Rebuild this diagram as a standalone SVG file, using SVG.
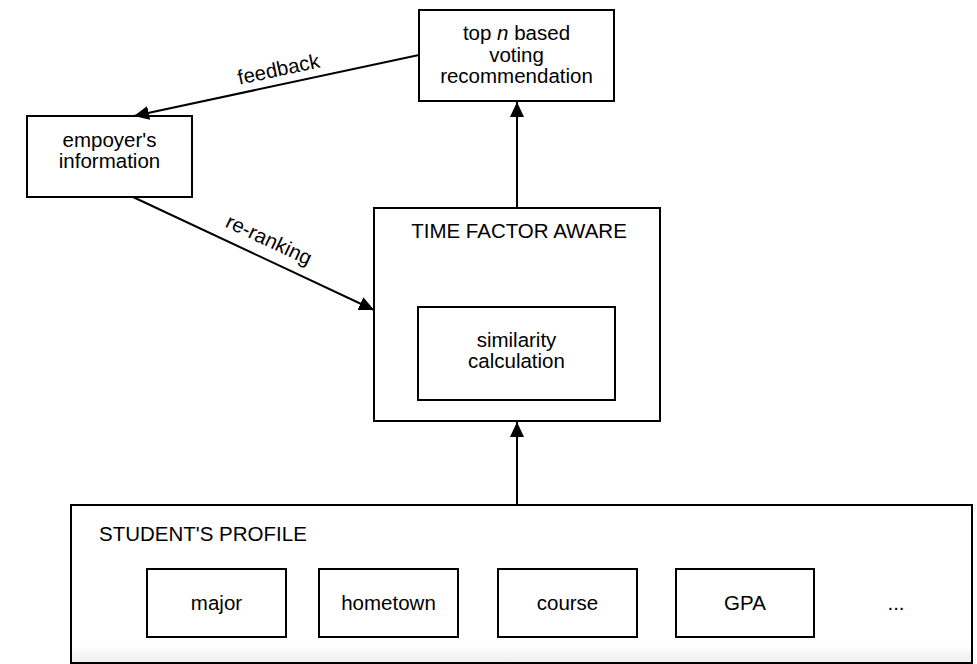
<svg xmlns="http://www.w3.org/2000/svg" width="977" height="664" viewBox="0 0 977 664">
<defs>
<marker id="arr" markerUnits="userSpaceOnUse" markerWidth="16" markerHeight="14" refX="15" refY="7" orient="auto">
<path d="M0,0 L15,7 L0,14 z" fill="#000"/>
</marker>
<linearGradient id="fade" x1="0" y1="0" x2="0" y2="1">
<stop offset="0" stop-color="#ffffff"/>
<stop offset="1" stop-color="#eeeeee"/>
</linearGradient>
</defs>
<style>
.box{fill:#fff;stroke:#000;stroke-width:2}
.t{font-family:"Liberation Sans",Arial,sans-serif;font-size:20.5px;fill:#000}
.c{text-anchor:middle}
.edge{stroke:#000;stroke-width:2;fill:none;marker-end:url(#arr)}
</style>
<rect width="977" height="664" fill="#fff"/>
<g id="top-n">
<rect class="box" x="419" y="10" width="195" height="91"/>
<text class="t c" x="516.5" y="40">top <tspan font-style="italic">n</tspan> based</text>
<text class="t c" x="516.5" y="62">voting</text>
<text class="t c" x="516.5" y="83">recommendation</text>
</g>
<g id="employer">
<rect class="box" x="27" y="116" width="165" height="81"/>
<text class="t c" x="109.5" y="147">empoyer's</text>
<text class="t c" x="109.5" y="168">information</text>
</g>
<g id="time-factor">
<rect class="box" x="374" y="208" width="286" height="213"/>
<text class="t c" x="519" y="238">TIME FACTOR AWARE</text>
</g>
<g id="similarity">
<rect class="box" x="418" y="307" width="197" height="93"/>
<text class="t c" x="516.5" y="347">similarity</text>
<text class="t c" x="516.5" y="368">calculation</text>
</g>
<g id="student-profile">
<rect class="box" x="71" y="505" width="901" height="158"/>
<rect x="72" y="646" width="899" height="16" fill="url(#fade)"/>
<text class="t" x="99" y="541">STUDENT'S PROFILE</text>
</g>
<g id="major">
<rect class="box" x="147" y="569" width="139" height="68"/>
<text class="t c" x="216.5" y="610">major</text>
</g>
<g id="hometown">
<rect class="box" x="319" y="569" width="139" height="68"/>
<text class="t c" x="388.5" y="610">hometown</text>
</g>
<g id="course">
<rect class="box" x="498" y="569" width="139" height="68"/>
<text class="t c" x="567.5" y="610">course</text>
</g>
<g id="gpa">
<rect class="box" x="676" y="569" width="138" height="68"/>
<text class="t c" x="745" y="610">GPA</text>
</g>
<g id="more">
<text class="t c" x="896" y="610">...</text>
</g>
<g id="connectors">
<line class="edge" x1="517" y1="505" x2="517" y2="422"/>
<line class="edge" x1="517" y1="208" x2="517" y2="102"/>
<line class="edge" x1="419" y1="55" x2="134" y2="116"/>
<text class="t c" x="280" y="76" transform="rotate(-12.1 280 76)">feedback</text>
<line class="edge" x1="133" y1="197" x2="374" y2="310"/>
<text class="t c" x="266" y="246" transform="rotate(25.1 266 246)">re-ranking</text>
</g>
</svg>
